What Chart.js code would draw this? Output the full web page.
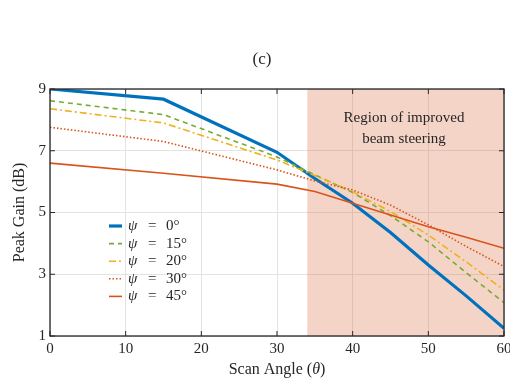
<!DOCTYPE html>
<html>
<head>
<meta charset="utf-8">
<script src="https://cdn.jsdelivr.net/npm/chart.js@4/dist/chart.umd.min.js"></script>
<style>
html,body{margin:0;padding:0;background:#fff;}
canvas{display:block;}
</style>
</head>
<body>
<canvas id="c" width="510" height="382"></canvas>
<script>
// ---- data ----
const angles = [0, 15, 30, 35, 40, 45, 50, 55, 60];
const gainPsi0  = [9.00, 8.67, 6.95, 6.10, 5.30, 4.35, 3.30, 2.30, 1.25];
const gainPsi15 = [8.62, 8.17, 6.80, 6.22, 5.65, 4.90, 4.05, 3.05, 2.08];
const gainPsi20 = [8.36, 7.90, 6.70, 6.20, 5.67, 5.03, 4.27, 3.40, 2.49];
const gainPsi30 = [7.76, 7.30, 6.38, 6.02, 5.73, 5.24, 4.60, 3.90, 3.25];
const gainPsi45 = [6.60, 6.27, 5.92, 5.68, 5.30, 4.92, 4.54, 4.20, 3.84];
const psiLabels = ['0', '15', '20', '30', '45'];
const xTicks = [0, 10, 20, 30, 40, 50, 60];
const yTicks = [1, 3, 5, 7, 9];
const regionStart = 34;
const regionEnd = 60;
const regionText = ['Region of improved', 'beam steering'];

const SERIF = '"Liberation Serif", "DejaVu Serif", serif';
const styles = [
  {color: '#0072BD', width: 3.2, dash: []},
  {color: '#77AC30', width: 1.6, dash: [5, 4]},
  {color: '#EDB120', width: 1.6, dash: [7, 3, 2, 3]},
  {color: '#D95319', width: 1.6, dash: [1.5, 2]},
  {color: '#D95319', width: 1.6, dash: []}
];
const series = [gainPsi0, gainPsi15, gainPsi20, gainPsi30, gainPsi45];

const datasets = series.map((vals, k) => ({
  label: 'ψ = ' + psiLabels[k] + '°',
  data: angles.map((a, i) => ({x: a, y: vals[i]})),
  borderColor: styles[k].color,
  borderWidth: styles[k].width,
  borderDash: styles[k].dash,
  pointRadius: 0,
  tension: 0,
  fill: false
})).reverse();

const decor = {
  id: 'decor',
  beforeDatasetsDraw(chart) {
    const {ctx, chartArea: a, scales: {x}} = chart;
    const x0 = x.getPixelForValue(regionStart), x1 = x.getPixelForValue(regionEnd);
    ctx.save();
    ctx.fillStyle = 'rgba(222,112,72,0.30)';
    ctx.fillRect(x0, a.top, x1 - x0, a.bottom - a.top);
    ctx.restore();
  },
  afterDraw(chart) {
    const {ctx, chartArea: a, scales: {x, y}} = chart;
    ctx.save();
    // box
    ctx.strokeStyle = '#262626';
    ctx.lineWidth = 1.3;
    ctx.strokeRect(a.left, a.top, a.right - a.left, a.bottom - a.top);
    // inward ticks
    ctx.lineWidth = 1;
    ctx.beginPath();
    xTicks.forEach(v => {
      const px = x.getPixelForValue(v);
      ctx.moveTo(px, a.bottom); ctx.lineTo(px, a.bottom - 5);
      ctx.moveTo(px, a.top); ctx.lineTo(px, a.top + 5);
    });
    yTicks.forEach(v => {
      const py = y.getPixelForValue(v);
      ctx.moveTo(a.left, py); ctx.lineTo(a.left + 5, py);
      ctx.moveTo(a.right, py); ctx.lineTo(a.right - 5, py);
    });
    ctx.stroke();
    // tick labels
    ctx.fillStyle = '#262626';
    ctx.font = '15px ' + SERIF;
    ctx.textAlign = 'center'; ctx.textBaseline = 'middle';
    xTicks.forEach(v => ctx.fillText(String(v), x.getPixelForValue(v), a.bottom + 13));
    ctx.textAlign = 'right';
    yTicks.forEach(v => ctx.fillText(String(v), a.left - 4, y.getPixelForValue(v)));
    // title
    ctx.textAlign = 'center';
    ctx.font = '17px ' + SERIF;
    ctx.fillText('(c)', 262, 60);
    // x axis title
    ctx.font = '16px ' + SERIF;
    const p1 = 'Scan Angle (', p2 = 'θ', p3 = ')';
    ctx.font = '16px ' + SERIF; const w1 = ctx.measureText(p1).width, w3 = ctx.measureText(p3).width;
    ctx.font = 'italic 16px ' + SERIF; const w2 = ctx.measureText(p2).width;
    let sx = (a.left + a.right) / 2 - (w1 + w2 + w3) / 2;
    ctx.textAlign = 'left';
    ctx.font = '16px ' + SERIF; ctx.fillText(p1, sx, 370);
    ctx.font = 'italic 16px ' + SERIF; ctx.fillText(p2, sx + w1, 370);
    ctx.font = '16px ' + SERIF; ctx.fillText(p3, sx + w1 + w2, 370);
    // y axis title
    ctx.save();
    ctx.translate(20, (a.top + a.bottom) / 2);
    ctx.rotate(-Math.PI / 2);
    ctx.textAlign = 'center';
    ctx.font = '16px ' + SERIF;
    ctx.fillText('Peak Gain (dB)', 0, 0);
    ctx.restore();
    // region text
    ctx.textAlign = 'center';
    ctx.font = '15px ' + SERIF;
    ctx.fillText(regionText[0], 404, 118);
    ctx.fillText(regionText[1], 404, 139);
    // legend
    const rowY0 = 226, rowStep = 17.6;
    psiLabels.forEach((lab, k) => {
      const ry = rowY0 + k * rowStep;
      ctx.save();
      ctx.strokeStyle = styles[k].color;
      ctx.lineWidth = styles[k].width;
      ctx.setLineDash(styles[k].dash);
      ctx.beginPath(); ctx.moveTo(109, ry); ctx.lineTo(122, ry); ctx.stroke();
      ctx.restore();
      ctx.fillStyle = '#262626';
      ctx.textAlign = 'left';
      ctx.font = 'italic 15px ' + SERIF;
      ctx.fillText('ψ', 128, ry);
      ctx.font = '15px ' + SERIF;
      ctx.fillText('=', 148, ry);
      ctx.fillText(lab + '°', 166, ry);
    });
    ctx.restore();
  }
};

new Chart(document.getElementById('c'), {
  type: 'line',
  data: {datasets},
  options: {
    responsive: false,
    animation: false,
    layout: {padding: {top: 89, right: 6, left: 0, bottom: 0}},
    plugins: {legend: {display: false}, title: {display: false}, tooltip: {enabled: false}},
    scales: {
      x: {
        type: 'linear', min: 0, max: 60,
        ticks: {display: false, stepSize: 10},
        grid: {color: '#e3e3e3', lineWidth: 1, drawTicks: false},
        border: {display: false},
        afterFit(s) { s.height = 46; }
      },
      y: {
        type: 'linear', min: 1, max: 9,
        ticks: {display: false, stepSize: 2},
        grid: {color: '#e3e3e3', lineWidth: 1, drawTicks: false},
        border: {display: false},
        afterFit(s) { s.width = 50; }
      }
    }
  },
  plugins: [decor]
});
</script>
</body>
</html>
